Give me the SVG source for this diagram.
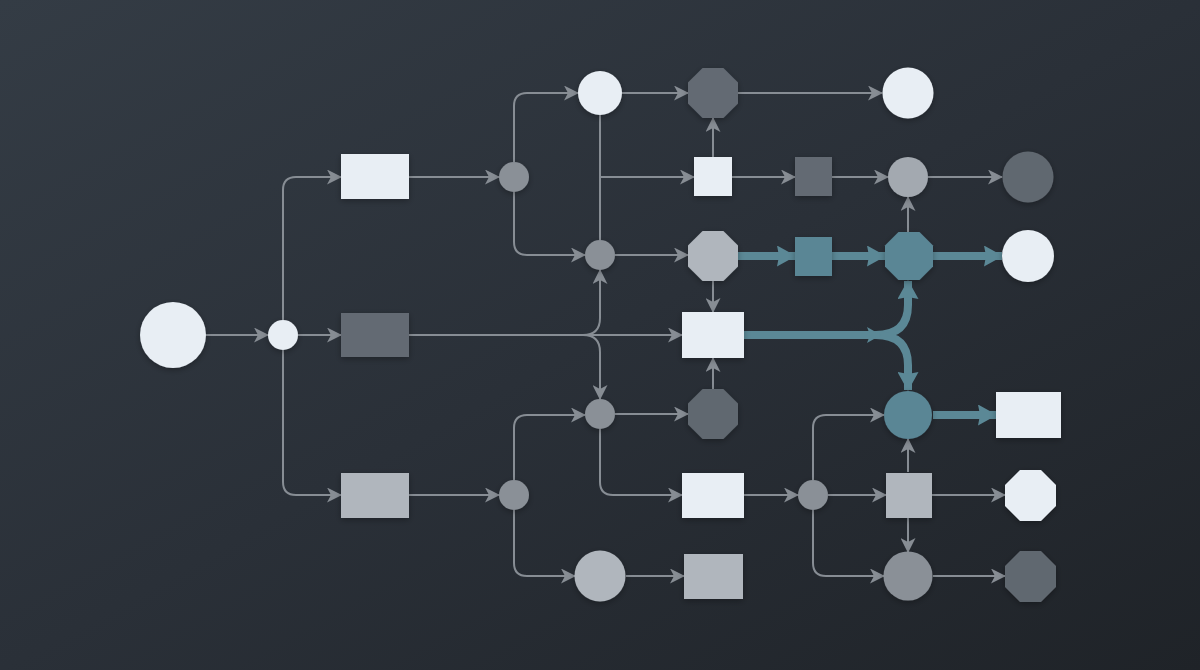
<svg xmlns="http://www.w3.org/2000/svg" width="1200" height="670" viewBox="0 0 1200 670">
<defs>
<linearGradient id="bg" x1="0" y1="0" x2="1" y2="1">
<stop offset="0" stop-color="#343c45"/>
<stop offset="0.5" stop-color="#2a3038"/>
<stop offset="1" stop-color="#1f2328"/>
</linearGradient>
<filter id="sh" x="-30%" y="-30%" width="160%" height="160%">
<feDropShadow dx="0" dy="2" stdDeviation="3" flood-color="#000" flood-opacity="0.3"/>
</filter>
<marker id="ag" markerUnits="userSpaceOnUse" markerWidth="15" markerHeight="15" refX="14" refY="7.5" orient="auto">
<path d="M0,0 L15,7.5 L0,15 L4,7.5 z" fill="#878d94"/>
</marker>
<marker id="at" markerUnits="userSpaceOnUse" markerWidth="19" markerHeight="21" refX="18" refY="10.5" orient="auto">
<path d="M0,0 L19,10.5 L0,21 L2,10.5 z" fill="#5b8896"/>
</marker>
<marker id="ats" markerUnits="userSpaceOnUse" markerWidth="14" markerHeight="16" refX="13" refY="8" orient="auto">
<path d="M0,0 L14,8 L0,16 L3,8 z" fill="#5b8896"/>
</marker>
</defs>
<style>
.g{fill:none;stroke:#878d94;stroke-width:2;marker-end:url(#ag)}
.gn{fill:none;stroke:#878d94;stroke-width:2}
.t{fill:none;stroke:#5b8896;stroke-width:8;marker-end:url(#at)}
.ts{fill:none;stroke:#5b8896;stroke-width:8;marker-end:url(#ats)}
.n{filter:url(#sh)}
.light{fill:#e8eef4}
.dark{fill:#646b73}
.mid{fill:#b0b6bd}
.gray{fill:#8a9097}
.gray2{fill:#a3a9b0}
.dark2{fill:#60676f}
.teal{fill:#5a8695}
</style>
<rect width="1200" height="670" fill="url(#bg)"/>
<g id="connectors">
<path class="g" d="M206,335 H268"/>
<path class="g" d="M298,335 H341"/>
<path class="g" d="M283,320 V190 Q283,177 296,177 H341"/>
<path class="g" d="M283,350 V482 Q283,495 296,495 H341"/>
<path class="g" d="M409,177 H499"/>
<path class="g" d="M514,162 V106 Q514,93 527,93 H578"/>
<path class="g" d="M514,192 V242 Q514,255 527,255 H585"/>
<path class="g" d="M622,93 H688"/>
<path class="g" d="M738,93 H882"/>
<path class="gn" d="M600,115 V240"/>
<path class="g" d="M600,177 H694"/>
<path class="g" d="M713,157 V118"/>
<path class="g" d="M732,177 H795"/>
<path class="g" d="M832,177 H888"/>
<path class="g" d="M928,177 H1002"/>
<path class="g" d="M908,232 V197"/>
<path class="g" d="M615,255 H688"/>
<path class="g" d="M713,280 V312"/>
<path class="t" d="M738,256 H795"/>
<path class="t" d="M832,256 H885"/>
<path class="t" d="M933,256 H1002"/>
<path class="g" d="M409,335 H682"/>
<path class="g" d="M583,335 Q600,335 600,318 V270"/>
<path class="g" d="M583,335 Q600,335 600,352 V399"/>
<path class="g" d="M713,389 V358"/>
<path class="g" d="M615,414 H688"/>
<path class="g" d="M600,429 V482 Q600,495 613,495 H682"/>
<path class="g" d="M514,480 V428 Q514,415 527,415 H585"/>
<path class="g" d="M514,510 V563 Q514,576 527,576 H575"/>
<path class="g" d="M409,495 H499"/>
<path class="g" d="M626,576 H684"/>
<path class="g" d="M744,495 H798"/>
<path class="g" d="M828,495 H886"/>
<path class="g" d="M813,480 V428 Q813,415 826,415 H884"/>
<path class="g" d="M813,510 V563 Q813,576 826,576 H884"/>
<path class="g" d="M908,472 V439"/>
<path class="g" d="M908,518 V552"/>
<path class="g" d="M932,495 H1005"/>
<path class="g" d="M933,576 H1005"/>
<path class="t" d="M933,415 H996"/>
<path class="t" d="M876,335 Q908,335 908,305 V281"/>
<path class="t" d="M876,335 Q908,335 908,365 V390"/>
<path class="ts" d="M744,335 H880"/>
</g>
<g id="n1" class="n"><circle class="light" cx="173" cy="335" r="33"/></g>
<g id="n2" class="n"><circle class="light" cx="283" cy="335" r="15"/></g>
<g id="n3" class="n"><rect class="light" x="341" y="154" width="68" height="45"/></g>
<g id="n4" class="n"><rect class="dark" x="341" y="313" width="68" height="44"/></g>
<g id="n5" class="n"><rect class="mid" x="341" y="473" width="68" height="45"/></g>
<g id="n6" class="n"><circle class="gray" cx="514" cy="177" r="15"/></g>
<g id="n7" class="n"><circle class="light" cx="600" cy="93" r="22"/></g>
<g id="n8" class="n"><circle class="gray" cx="600" cy="255" r="15"/></g>
<g id="n9" class="n"><polygon class="dark" points="702.6,68 723.4,68 738,82.6 738,103.4 723.4,118 702.6,118 688,103.4 688,82.6"/></g>
<g id="n10" class="n"><circle class="light" cx="908" cy="93" r="25.5"/></g>
<g id="n11" class="n"><rect class="light" x="694" y="157" width="38" height="39"/></g>
<g id="n12" class="n"><rect class="dark" x="795" y="157" width="37" height="39"/></g>
<g id="n13" class="n"><circle class="gray2" cx="908" cy="177" r="20"/></g>
<g id="n14" class="n"><circle class="dark2" cx="1028" cy="177" r="25.5"/></g>
<g id="n15" class="n"><polygon class="mid" points="702.6,231 723.4,231 738,245.6 738,266.4 723.4,281 702.6,281 688,266.4 688,245.6"/></g>
<g id="n16" class="n"><rect class="teal" x="795" y="237" width="37" height="39"/></g>
<g id="n17" class="n"><polygon class="teal" points="898.5,232 919.5,232 933,245.5 933,266.5 919.5,280 898.5,280 885,266.5 885,245.5"/></g>
<g id="n18" class="n"><circle class="light" cx="1028" cy="256" r="26"/></g>
<g id="n19" class="n"><rect class="light" x="682" y="312" width="62" height="46"/></g>
<g id="n20" class="n"><polygon class="dark2" points="702.6,389 723.4,389 738,403.6 738,424.4 723.4,439 702.6,439 688,424.4 688,403.6"/></g>
<g id="n21" class="n"><circle class="gray" cx="600" cy="414" r="15"/></g>
<g id="n22" class="n"><circle class="gray" cx="514" cy="495" r="15"/></g>
<g id="n23" class="n"><rect class="light" x="682" y="473" width="62" height="45"/></g>
<g id="n24" class="n"><circle class="mid" cx="600" cy="576" r="25.5"/></g>
<g id="n25" class="n"><rect class="mid" x="684" y="554" width="59" height="45"/></g>
<g id="n26" class="n"><circle class="teal" cx="908" cy="415" r="24"/></g>
<g id="n27" class="n"><rect class="light" x="996" y="392" width="65" height="46"/></g>
<g id="n28" class="n"><circle class="gray" cx="813" cy="495" r="15"/></g>
<g id="n29" class="n"><rect class="mid" x="886" y="473" width="46" height="45"/></g>
<g id="n30" class="n"><polygon class="light" points="1020,470 1041,470 1056,485 1056,506 1041,521 1020,521 1005,506 1005,485"/></g>
<g id="n31" class="n"><circle class="gray" cx="908" cy="576" r="24.5"/></g>
<g id="n32" class="n"><polygon class="dark2" points="1020,551 1041,551 1056,566 1056,587 1041,602 1020,602 1005,587 1005,566"/></g>
</svg>
